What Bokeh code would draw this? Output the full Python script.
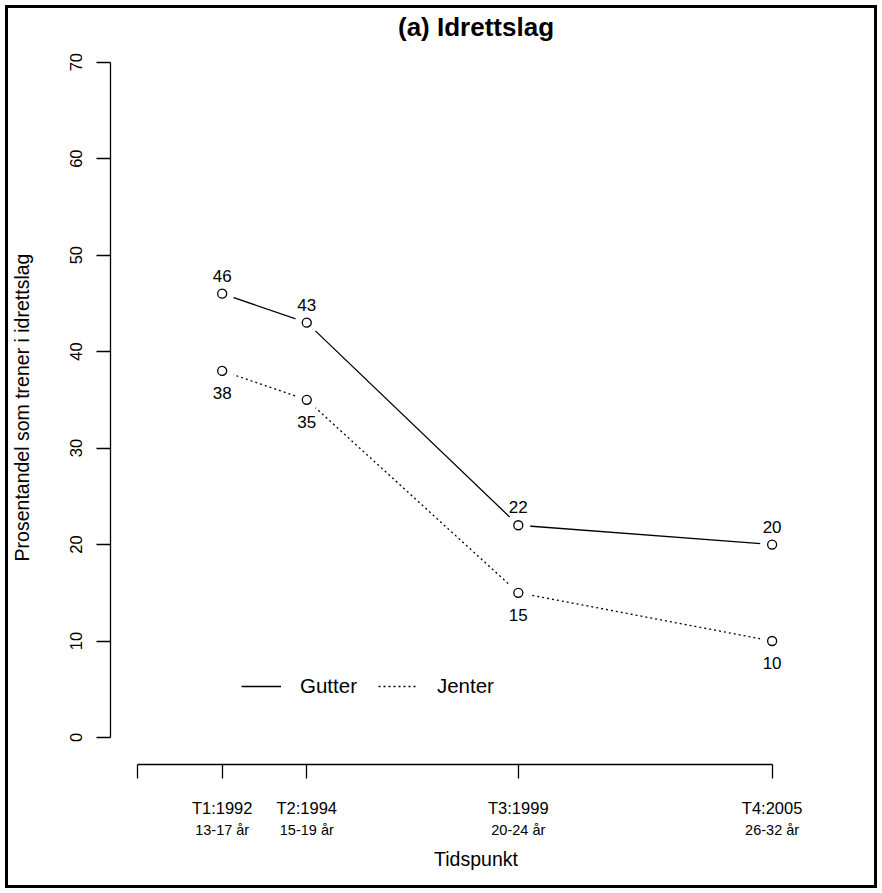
from bokeh.plotting import figure
from bokeh.models import (Range1d, LinearAxis, FixedTicker, Legend, LegendItem,
                          ColumnDataSource)
from bokeh.core.properties import value
from bokeh.embed import file_html
from bokeh.resources import INLINE

# Survey waves and share (%) training in a sports club
years = [1992, 1994, 1999, 2005]
gutter = [46, 43, 22, 20]
jenter = [38, 35, 15, 10]

# Axis ticks and labels
x_ticks = [1990, 1992, 1994, 1999, 2005]
wave_labels = ["", "T1:1992", "T2:1994", "T3:1999", "T4:2005"]
age_labels = ["", "13-17 år", "15-19 år", "20-24 år", "26-32 år"]
y_ticks = [0, 10, 20, 30, 40, 50, 60, 70]

FONT = "Liberation Sans"
LW = 1.3

p = figure(width=882, height=893, output_backend="svg", toolbar_location=None,
           x_range=Range1d(1989.36, 2006.64), y_range=Range1d(-2.8, 71.21),
           x_axis_type=None, y_axis_type=None,
           min_border_left=110, min_border_right=41,
           min_border_top=50, min_border_bottom=129,
           title="(a) Idrettslag")
p.outline_line_color = None
p.background_fill_color = None
p.border_fill_color = None
# box drawn around the whole figure, inset from the edges
p.styles = {"outline": "3px solid black", "outline-offset": "-8px"}

p.title.text_font = FONT
p.title.text_font_size = "26px"
p.title.text_font_style = "bold"
p.title.align = "center"
p.title.text_color = "black"
p.title.standoff = 18


def style_axis(ax, font_size):
    ax.axis_line_color = "black"
    ax.axis_line_width = LW
    ax.major_tick_line_color = "black"
    ax.major_tick_line_width = LW
    ax.major_tick_in = 0
    ax.major_tick_out = 14
    ax.minor_tick_in = 0
    ax.minor_tick_out = 0
    ax.major_label_text_font = FONT
    ax.major_label_text_font_size = font_size
    ax.major_label_text_color = "black"
    ax.axis_label_text_font = FONT
    ax.axis_label_text_font_size = "19.5px"
    ax.axis_label_text_font_style = "normal"
    ax.axis_label_text_color = "black"


# y axis: line spans 0..70 only, labels parallel to the axis
yaxis = LinearAxis(ticker=FixedTicker(ticks=y_ticks), bounds=(0, 70),
                   axis_label="Prosentandel som trener i idrettslag")
style_axis(yaxis, "16.5px")
yaxis.major_label_orientation = "vertical"
yaxis.major_label_standoff = 14
yaxis.axis_label_standoff = 35
p.add_layout(yaxis, "left")

# x axis: survey wave on the first label row
xaxis = LinearAxis(ticker=FixedTicker(ticks=x_ticks), bounds=(1990, 2005),
                   major_label_overrides={t: s for t, s in zip(x_ticks, wave_labels)})
style_axis(xaxis, "16.5px")
xaxis.major_label_standoff = 20
p.add_layout(xaxis, "below")

# second label row: age range at each wave, plus axis title
age_axis = LinearAxis(ticker=FixedTicker(ticks=x_ticks),
                      major_label_overrides={t: s for t, s in zip(x_ticks, age_labels)},
                      axis_label="Tidspunkt")
style_axis(age_axis, "14.5px")
age_axis.axis_line_color = None
age_axis.major_tick_line_color = None
age_axis.major_tick_out = 0
age_axis.major_label_standoff = 2
age_axis.axis_label_standoff = 7
p.add_layout(age_axis, "below")

src_g = ColumnDataSource(dict(x=years, y=gutter, lab=[str(v) for v in gutter]))
src_j = ColumnDataSource(dict(x=years, y=jenter, lab=[str(v) for v in jenter]))

line_g = p.line("x", "y", source=src_g, line_color="black", line_width=LW)
line_j = p.line("x", "y", source=src_j, line_color="black", line_width=LW,
                line_dash="2 3")

# white disks leave a gap between the lines and the point symbols
for src in (src_g, src_j):
    p.scatter("x", "y", source=src, marker="circle", size=24,
              fill_color="white", line_color=None)
    p.scatter("x", "y", source=src, marker="circle", size=9,
              fill_color=None, line_color="black", line_width=LW)

p.text("x", "y", text="lab", source=src_g, text_align="center",
       text_baseline="alphabetic", y_offset=-18,
       text_font=value(FONT), text_font_size="17px", text_color="black")
p.text("x", "y", text="lab", source=src_j, text_align="center",
       text_baseline="alphabetic", y_offset=22,
       text_font=value(FONT), text_font_size="17px", text_color="black")

legend = Legend(items=[LegendItem(label="Gutter", renderers=[line_g]),
                       LegendItem(label="Jenter", renderers=[line_j])],
                orientation="horizontal", location=(131, 66))
legend.border_line_color = None
legend.background_fill_alpha = 0
legend.padding = 0
legend.margin = 0
legend.spacing = 21
legend.label_standoff = 19
legend.glyph_width = 40
legend.glyph_height = 20
legend.label_height = 20
legend.label_text_font = FONT
legend.label_text_font_size = "20.5px"
legend.label_text_color = "black"
p.add_layout(legend)

open("out.html", "w").write(file_html(p, INLINE))
